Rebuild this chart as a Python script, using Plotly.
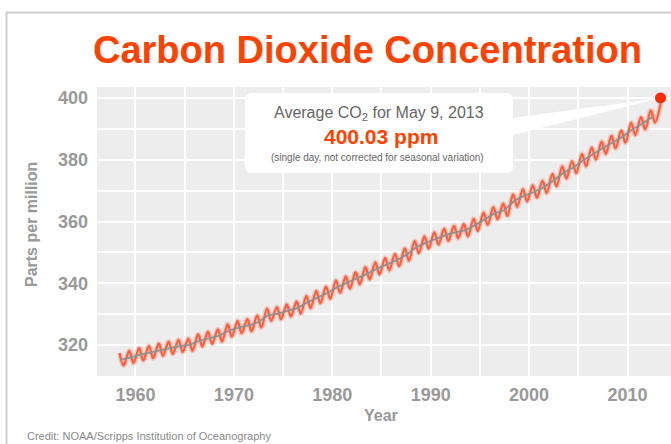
import plotly.graph_objects as go

# ---------------- data ----------------
years = list(range(1958, 2014))
# yearly trend (grey line), ppm
trend = [315.3, 315.97, 316.91, 317.64, 318.45, 318.99, 319.62, 320.04, 321.38, 322.16,
         323.04, 324.62, 325.68, 326.32, 327.45, 329.68, 330.18, 331.11, 332.04, 333.83,
         335.40, 336.84, 338.75, 340.11, 341.45, 343.05, 344.65, 346.12, 347.42, 349.19,
         351.57, 353.12, 354.39, 355.61, 356.45, 357.10, 358.83, 360.82, 362.61, 363.73,
         366.70, 368.38, 369.55, 371.14, 373.28, 375.80, 377.52, 379.80, 381.90, 383.79,
         385.60, 387.43, 389.90, 391.65, 393.85]
# seasonal maxima (May) for 1958..2013 and minima (October) for 1958..2012
peaks = [317.4, 318.1, 319.0, 319.7, 320.5, 321.1, 321.7, 322.1, 323.5, 324.3,
         325.1, 326.7, 327.8, 328.4, 329.6, 331.8, 332.3, 333.2, 334.1, 335.9,
         337.5, 338.9, 340.9, 342.2, 343.6, 345.2, 346.8, 348.2, 349.5, 351.3,
         353.7, 355.2, 356.5, 357.7, 358.6, 359.2, 360.9, 362.9, 364.7, 365.8,
         368.8, 370.5, 371.7, 373.2, 375.4, 377.9, 379.6, 381.9, 384.0, 385.9,
         387.7, 389.5, 392.0, 393.8, 396.0, 398.3]
troughs = [313.4, 314.1, 315.0, 315.7, 316.5, 317.1, 317.7, 318.1, 319.5, 320.3,
           321.1, 322.7, 323.8, 324.4, 325.6, 327.8, 328.3, 329.2, 330.1, 331.9,
           333.5, 334.9, 336.9, 338.2, 339.6, 341.2, 342.8, 344.2, 345.5, 347.3,
           349.7, 351.2, 352.5, 353.7, 354.6, 355.2, 356.9, 358.9, 360.7, 361.8,
           364.8, 366.5, 367.7, 369.2, 371.4, 373.9, 375.6, 377.9, 380.0, 381.9,
           383.7, 385.5, 388.0, 389.8, 392.0]
PEAK_MONTH_FRAC = 0.37     # May
TROUGH_MONTH_FRAC = 0.79   # October
TREND_FRAC = 0.5

latest_date = 2013.35      # May 9, 2013
latest_value = 400.03

x_tickvals = [1960, 1970, 1980, 1990, 2000, 2010]
x_ticktext = ["1960", "1970", "1980", "1990", "2000", "2010"]
y_tickvals = [320, 340, 360, 380, 400]
y_ticktext = ["320", "340", "360", "380", "400"]

X_RANGE = [1956.09, 2014.42]
Y_RANGE = [309.96, 403.56]

# ---------------- build series ----------------
sx, sy = [], []
for i, yr in enumerate(years):
    sx.append(yr + PEAK_MONTH_FRAC)
    sy.append(peaks[i])
    if i < len(troughs):
        sx.append(yr + TROUGH_MONTH_FRAC)
        sy.append(troughs[i])
tx = [yr + TREND_FRAC for yr in years[:len(trend)]]

ORANGE = "#ff5d3d"
RED = "#ff4200"
GREY_TXT = "#999999"
SANS = "Liberation Sans, Arial, Helvetica, sans-serif"

fig = go.Figure()
fig.add_trace(go.Scatter(x=sx, y=sy, mode="lines", line=dict(color="rgba(255,130,100,0.35)", width=5, shape="spline", smoothing=1.0), hoverinfo="skip", showlegend=False))
fig.add_trace(go.Scatter(x=sx, y=sy, mode="lines", line=dict(color=ORANGE, width=2.2, shape="spline", smoothing=1.0), showlegend=False))
fig.add_trace(go.Scatter(x=tx, y=trend, mode="lines", line=dict(color="#909090", width=1.8), showlegend=False))
fig.add_trace(go.Scatter(x=[latest_date], y=[latest_value], mode="markers", marker=dict(color="#ff2a00", size=11), showlegend=False))

W, H = 671, 444
L, R, T, B = 97, 0, 87, 68
pw, ph = W - L - R, H - T - B


def px2x(px):
    return X_RANGE[0] + (px - L) / pw * (X_RANGE[1] - X_RANGE[0])


def py2y(py):
    return Y_RANGE[0] + (H - B - py) / ph * (Y_RANGE[1] - Y_RANGE[0])


def pxp(px):
    return (px - L) / pw


def pyp(py):
    return (H - B - py) / ph


# callout box (rounded rectangle) in data space
bx0, bx1, by0, by1, rad = 245, 513, 93, 173, 7
path = (f"M {px2x(bx0+rad)},{py2y(by0)} L {px2x(bx1-rad)},{py2y(by0)} "
        f"Q {px2x(bx1)},{py2y(by0)} {px2x(bx1)},{py2y(by0+rad)} "
        f"L {px2x(bx1)},{py2y(by1-rad)} Q {px2x(bx1)},{py2y(by1)} {px2x(bx1-rad)},{py2y(by1)} "
        f"L {px2x(bx0+rad)},{py2y(by1)} Q {px2x(bx0)},{py2y(by1)} {px2x(bx0)},{py2y(by1-rad)} "
        f"L {px2x(bx0)},{py2y(by0+rad)} Q {px2x(bx0)},{py2y(by0)} {px2x(bx0+rad)},{py2y(by0)} Z")
wedge = (f"M {px2x(505)},{py2y(119)} L {latest_date},{latest_value} "
         f"L {px2x(505)},{py2y(137)} Z")
shapes = [
    dict(type="path", path=path, xref="x", yref="y", fillcolor="white", line=dict(width=0), layer="below"),
    dict(type="path", path=wedge, xref="x", yref="y", fillcolor="white", line=dict(width=0), layer="below"),
    # card border
    dict(type="path", xref="paper", yref="paper",
         path=f"M {pxp(6.5)},{pyp(460)} L {pxp(6.5)},{pyp(12.5)} L {pxp(700)},{pyp(12.5)}",
         line=dict(color="#cfcfcf", width=2)),
]

annotations = [
    dict(text="<b>Carbon Dioxide Concentration</b>", x=pxp(367), y=pyp(50), xref="paper", yref="paper",
         showarrow=False, xanchor="center", yanchor="middle", font=dict(family=SANS, size=38, color=RED)),
    dict(text="Average CO<sub>2</sub> for May 9, 2013", x=pxp(379), y=pyp(113), xref="paper", yref="paper",
         showarrow=False, xanchor="center", yanchor="middle", font=dict(family=SANS, size=16, color="#666666")),
    dict(text="<b>400.03 ppm</b>", x=pxp(381), y=pyp(136), xref="paper", yref="paper",
         showarrow=False, xanchor="center", yanchor="middle", font=dict(family=SANS, size=21, color=RED)),
    dict(text="(single day, not corrected for seasonal variation)", x=pxp(377), y=pyp(157), xref="paper", yref="paper",
         showarrow=False, xanchor="center", yanchor="middle", font=dict(family=SANS, size=10, color="#666666")),
    dict(text="<b>Year</b>", x=pxp(381), y=pyp(415), xref="paper", yref="paper",
         showarrow=False, xanchor="center", yanchor="middle", font=dict(family=SANS, size=16, color=GREY_TXT)),
    dict(text="<b>Parts per million</b>", x=pxp(31), y=pyp(225), xref="paper", yref="paper", textangle=-90,
         showarrow=False, xanchor="center", yanchor="middle", font=dict(family=SANS, size=16, color=GREY_TXT)),
    dict(text="Credit: NOAA/Scripps Institution of Oceanography", x=pxp(25), y=pyp(436), xref="paper", yref="paper",
         showarrow=False, xanchor="left", yanchor="middle", font=dict(family=SANS, size=11, color="#8a8a8a")),
]

grid_common = dict(showgrid=True, gridcolor="white", gridwidth=2)
fig.update_layout(
    width=W, height=H,
    margin=dict(l=L, r=R, t=T, b=B, pad=0),
    paper_bgcolor="white", plot_bgcolor="#ededed",
    shapes=shapes, annotations=annotations,
    xaxis=dict(range=X_RANGE, tickmode="array", tickvals=x_tickvals, ticktext=x_ticktext, **grid_common,
               minor=dict(tickmode="linear", tick0=1955, dtick=5, ticks="", **grid_common),
               zeroline=False, showline=False, ticks="", ticklabelstandoff=6,
               tickfont=dict(family=SANS, size=18, color=GREY_TXT, weight="bold")),
    yaxis=dict(range=Y_RANGE, tickmode="array", tickvals=y_tickvals, ticktext=y_ticktext, **grid_common,
               minor=dict(tickmode="linear", tick0=310, dtick=10, ticks="", **grid_common),
               zeroline=False, showline=False, ticks="", ticklabelstandoff=8,
               tickfont=dict(family=SANS, size=18, color=GREY_TXT, weight="bold")),
)

fig.write_html("out.html", config={"displayModeBar": False},
               post_script="document.body.style.margin='0';document.body.style.overflow='hidden';")
